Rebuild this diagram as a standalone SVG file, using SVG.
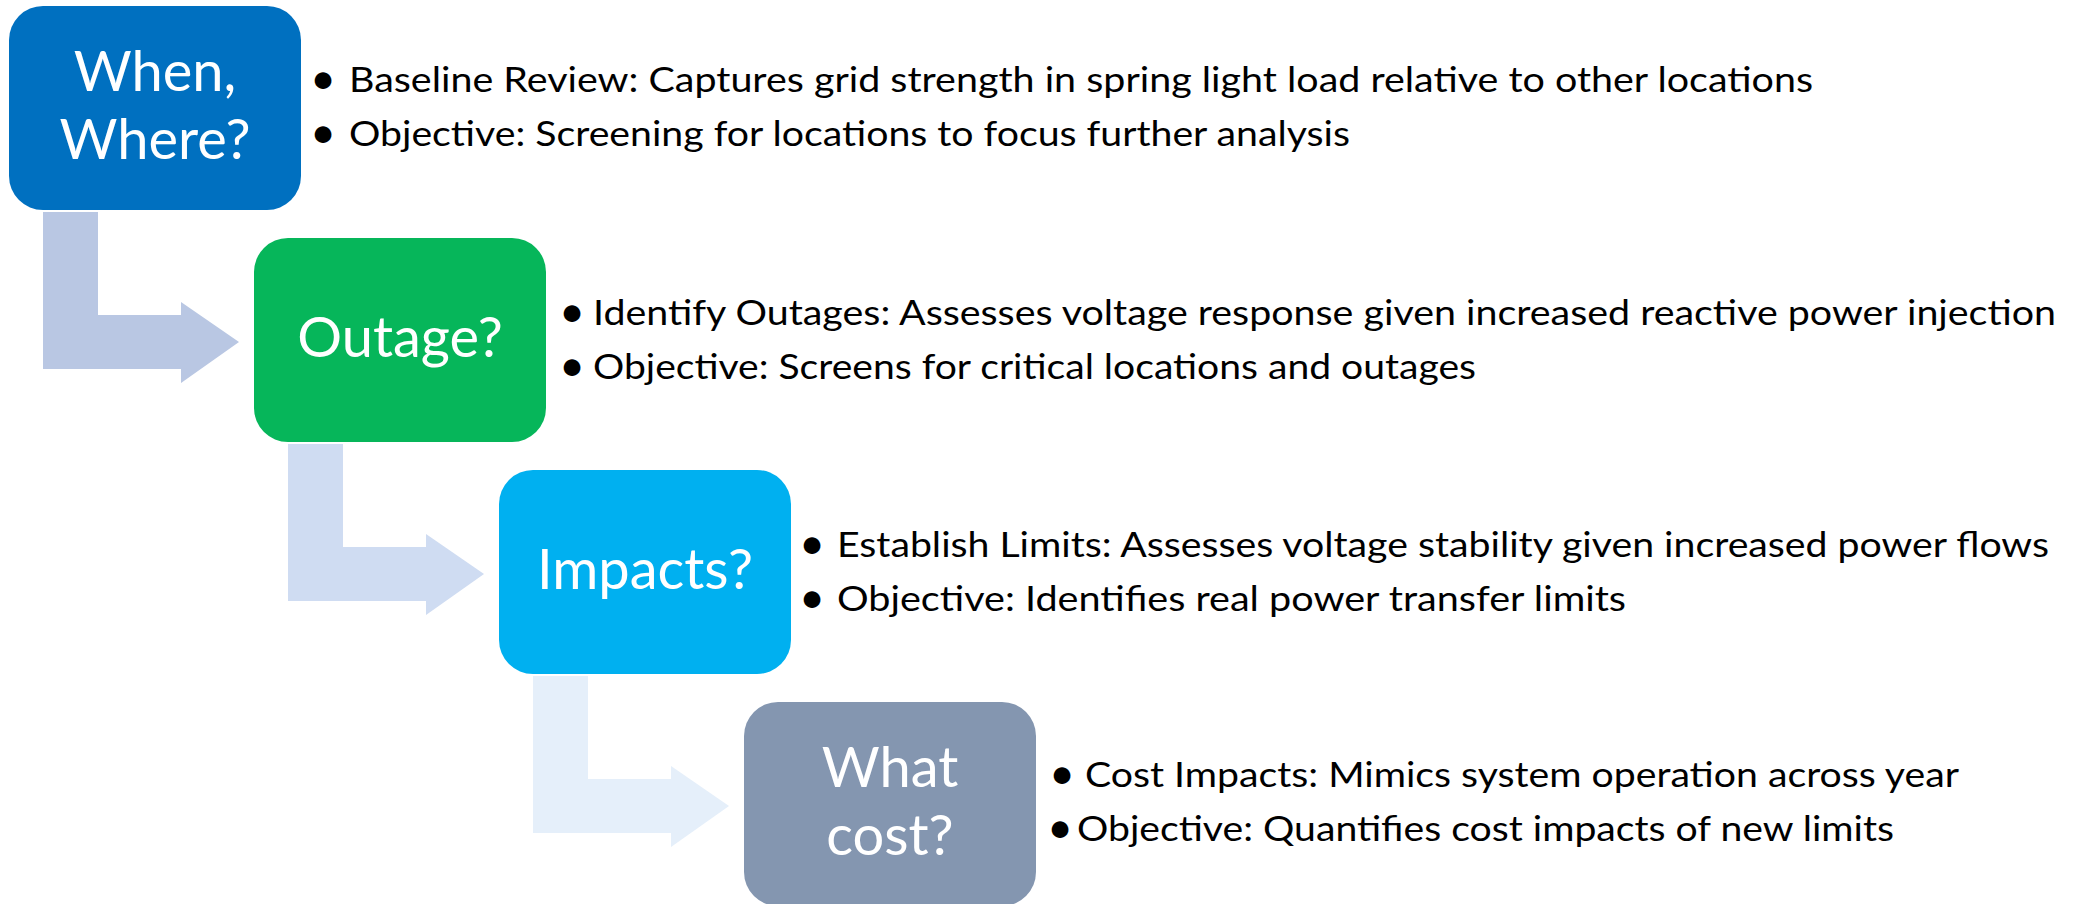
<svg xmlns="http://www.w3.org/2000/svg" width="2076" height="904" viewBox="0 0 2076 904">
<style>
.box{stroke:none}
.lbl{font-family:Lato,"Liberation Sans",sans-serif;font-size:56px;fill:#FFFFFF;text-anchor:middle}
.txt{font-family:Lato,"Liberation Sans",sans-serif;font-size:35px;fill:#000000}
.bul{font-family:Lato,"Liberation Sans",sans-serif;font-size:45px;fill:#000000;text-anchor:middle}
</style>
<rect width="2076" height="904" fill="#FFFFFF"/>
<g id="connectors">
<polygon fill="#B9C7E3" points="43,212 98,212 98,315 181,315 181,302 239,342 181,383 181,369 43,369"/>
<polygon fill="#CFDCF2" points="288,444 343,444 343,547 426,547 426,534 484,574 426,615 426,601 288,601"/>
<polygon fill="#E5EFFA" points="533,676 588,676 588,779 671,779 671,766 729,806 671,847 671,833 533,833"/>
</g>
<g id="node1">
<rect class="box" x="9" y="6" width="292" height="204" rx="34" fill="#0070C0"/>
<text class="lbl" x="155" y="91">When,</text>
<text class="lbl" x="155" y="159">Where?</text>
<text class="bul" x="323" y="94">•</text>
<text class="txt" x="349" y="92" textLength="1464" lengthAdjust="spacingAndGlyphs">Baseline Review: Captures grid strength in spring light load relative to other locations</text>
<text class="bul" x="323" y="148">•</text>
<text class="txt" x="349" y="146" textLength="1001" lengthAdjust="spacingAndGlyphs">Objective: Screening for locations to focus further analysis</text>
</g>
<g id="node2">
<rect class="box" x="254" y="238" width="292" height="204" rx="34" fill="#06B65A"/>
<text class="lbl" x="400" y="357">Outage?</text>
<text class="bul" x="572" y="327">•</text>
<text class="txt" x="593" y="325" textLength="1463" lengthAdjust="spacingAndGlyphs">Identify Outages: Assesses voltage response given increased reactive power injection</text>
<text class="bul" x="572" y="381">•</text>
<text class="txt" x="593" y="379" textLength="883" lengthAdjust="spacingAndGlyphs">Objective: Screens for critical locations and outages</text>
</g>
<g id="node3">
<rect class="box" x="499" y="470" width="292" height="204" rx="34" fill="#00B0F0"/>
<text class="lbl" x="645" y="589">Impacts?</text>
<text class="bul" x="812" y="559">•</text>
<text class="txt" x="837" y="557" textLength="1212" lengthAdjust="spacingAndGlyphs">Establish Limits: Assesses voltage stability given increased power flows</text>
<text class="bul" x="812" y="613">•</text>
<text class="txt" x="837" y="611" textLength="789" lengthAdjust="spacingAndGlyphs">Objective: Identifies real power transfer limits</text>
</g>
<g id="node4">
<rect class="box" x="744" y="702" width="292" height="204" rx="34" fill="#8496B0"/>
<text class="lbl" x="890" y="787">What</text>
<text class="lbl" x="890" y="855">cost?</text>
<text class="bul" x="1062" y="789">•</text>
<text class="txt" x="1085" y="787" textLength="874" lengthAdjust="spacingAndGlyphs">Cost Impacts: Mimics system operation across year</text>
<text class="bul" x="1060" y="843">•</text>
<text class="txt" x="1077" y="841" textLength="817" lengthAdjust="spacingAndGlyphs">Objective: Quantifies cost impacts of new limits</text>
</g>
</svg>
